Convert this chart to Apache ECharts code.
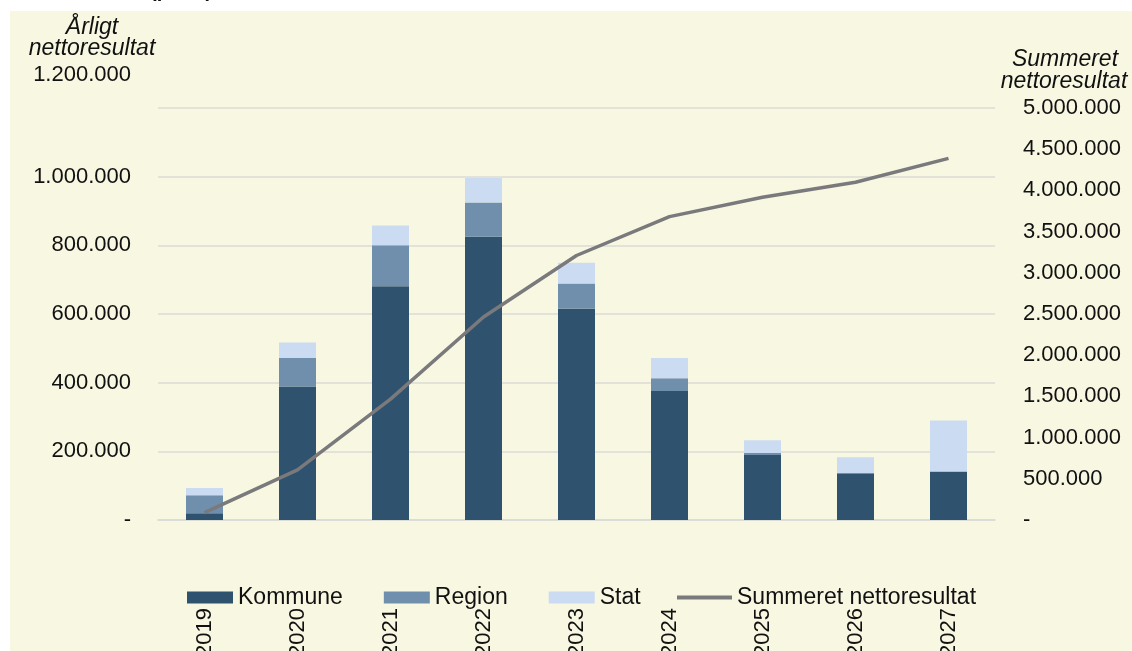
<!DOCTYPE html>
<html>
<head>
<meta charset="utf-8">
<script src="https://cdn.jsdelivr.net/npm/echarts@6/dist/echarts.min.js"></script>
<style>
  html, body { margin: 0; padding: 0; background: #ffffff; }
  #wrap { position: relative; width: 1132px; height: 651px; overflow: hidden; background: #ffffff; }
  #bg { position: absolute; left: 10px; top: 11px; right: 0; bottom: 0; background: #f8f7e1; }
  #chart { position: absolute; left: 0; top: 0; width: 1132px; height: 651px; }
</style>
</head>
<body>
<div id="wrap"><div id="bg"></div><div id="chart"></div></div>
<script>
// ---- data ----
const years = ['2019', '2020', '2021', '2022', '2023', '2024', '2025', '2026', '2027'];
const kommune = [20000, 389000, 681000, 825000, 615000, 376000, 189000, 134000, 141000];
const region  = [52000, 83000, 119000, 100000, 74000, 37000, 6000, 3000, 0];
const stat    = [21000, 45000, 58000, 71000, 60000, 59000, 37000, 46000, 149000];
const summeret = [90000, 609000, 1467000, 2463000, 3210000, 3682000, 3916000, 4099000, 4389000];
const leftTicks = { min: 0, max: 1200000, interval: 200000 };
const rightTicks = { min: 0, max: 5000000, interval: 500000 };

const FONT = '"Liberation Sans", Arial, sans-serif';
const FS = 22;
const TFS = 23;

function fmt(v) {
  if (v === 0) return '-';
  return String(Math.round(v)).replace(/\B(?=(\d{3})+(?!\d))/g, '.');
}

const chart = echarts.init(document.getElementById('chart'), null, { renderer: 'canvas' });
chart.setOption({
  backgroundColor: 'transparent',
  animation: false,
  textStyle: { fontFamily: FONT },
  grid: { left: 158, right: 137, top: 108, bottom: 131, outerBoundsMode: 'none', containLabel: false },
  legend: [
    {
      left: 187, top: 586, padding: 0,
      itemWidth: 46, itemHeight: 12, itemGap: 41,
      textStyle: { fontFamily: FONT, fontSize: TFS, color: '#111' },
      data: [
        { name: 'Kommune', icon: 'rect' },
        { name: 'Region', icon: 'rect' },
        { name: 'Stat', icon: 'rect' }
      ]
    },
    {
      left: 677, top: 586, padding: 0,
      itemWidth: 55, itemHeight: 4,
      textStyle: { fontFamily: FONT, fontSize: TFS, color: '#111' },
      data: [{ name: 'Summeret nettoresultat', icon: 'rect' }]
    }
  ],
  xAxis: {
    type: 'category',
    data: years,
    axisLine: { show: true, lineStyle: { color: '#d9d9d6', width: 1.5 } },
    axisTick: { show: false },
    axisLabel: { rotate: 90, margin: 88, fontFamily: FONT, fontSize: FS, color: '#111' }
  },
  yAxis: [
    {
      type: 'value', min: leftTicks.min, max: leftTicks.max, interval: leftTicks.interval,
      position: 'left',
      axisLine: { show: false }, axisTick: { show: false },
      splitLine: { lineStyle: { color: '#dcdbd5', width: 1.5 } },
      axisLabel: { showMaxLabel: false, margin: 27, fontFamily: FONT, fontSize: FS, color: '#111', formatter: fmt }
    },
    {
      type: 'value', min: rightTicks.min, max: rightTicks.max, interval: rightTicks.interval,
      position: 'right',
      axisLine: { show: false }, axisTick: { show: false },
      splitLine: { show: false },
      axisLabel: { align: 'left', margin: 28, fontFamily: FONT, fontSize: FS, color: '#111', formatter: fmt }
    }
  ],
  series: [
    { name: 'Kommune', type: 'bar', stack: 'a', data: kommune, barWidth: 37, itemStyle: { color: '#2f526e' } },
    { name: 'Region', type: 'bar', stack: 'a', data: region, barWidth: 37, itemStyle: { color: '#6f8fad' } },
    { name: 'Stat', type: 'bar', stack: 'a', data: stat, barWidth: 37, itemStyle: { color: '#cbdcf2' } },
    { name: 'Summeret nettoresultat', type: 'line', yAxisIndex: 1, data: summeret, symbol: 'none', showSymbol: false, z: 5,
      lineStyle: { color: '#7a797c', width: 3.5 }, itemStyle: { color: '#7a797c' } }
  ],
  graphic: [
    { type: 'text', left: 150, top: -19, style: { text: '(pr. år),', font: 'bold 20px ' + FONT, fill: '#111' } },
    { type: 'text', x: 92, y: 28, style: { text: 'Årligt', font: 'italic ' + TFS + 'px ' + FONT, fill: '#111', align: 'center', verticalAlign: 'middle' } },
    { type: 'text', x: 92, y: 49, style: { text: 'nettoresultat', font: 'italic ' + TFS + 'px ' + FONT, fill: '#111', align: 'center', verticalAlign: 'middle' } },
    { type: 'text', x: 131, y: 75, style: { text: fmt(leftTicks.max), font: FS + 'px ' + FONT, fill: '#111', align: 'right', verticalAlign: 'middle' } },
    { type: 'text', x: 1065, y: 60, style: { text: 'Summeret', font: 'italic ' + TFS + 'px ' + FONT, fill: '#111', align: 'center', verticalAlign: 'middle' } },
    { type: 'text', x: 1064, y: 82, style: { text: 'nettoresultat', font: 'italic ' + TFS + 'px ' + FONT, fill: '#111', align: 'center', verticalAlign: 'middle' } }
  ]
});
</script>
</body>
</html>
